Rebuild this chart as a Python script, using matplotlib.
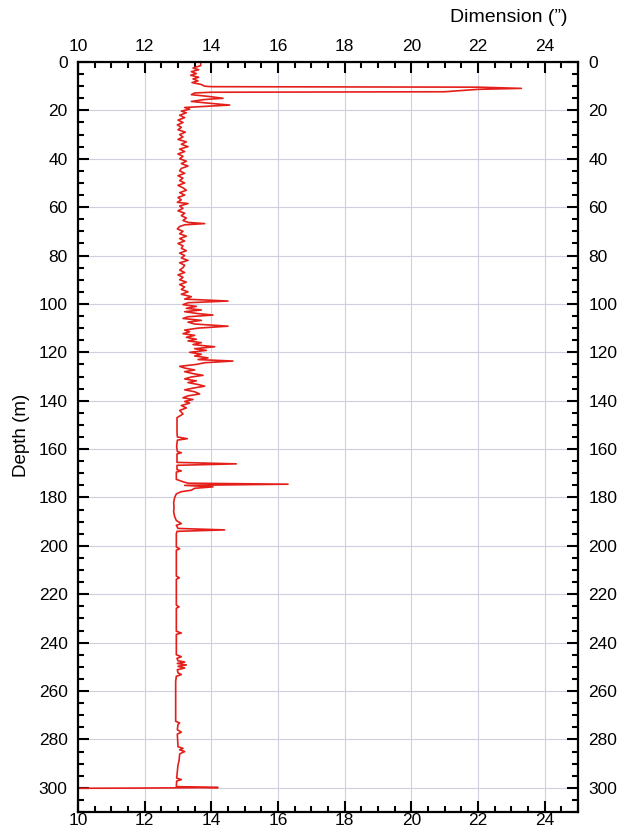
import matplotlib
matplotlib.use("Agg")
import matplotlib.pyplot as plt
from matplotlib.ticker import MultipleLocator

plt.rcParams['font.family'] = ['Liberation Sans', 'DejaVu Sans']

depth = [0, 1.5, 2.5, 3.2, 4.0, 4.8, 5.5, 6.3, 7.0, 7.8, 8.5, 9.3, 10.0, 10.2, 10.4, 10.9, 11.3, 12.3,
         12.5, 12.8, 13.5, 14.2, 15.0, 15.5, 16.3, 17.0, 17.8, 18.3, 18.8, 19.5, 20.3, 21.0, 22.0, 23.0,
         24.0, 25.0, 26.0, 27.0, 28.0, 29.0, 30.0, 31.0, 32.0, 33.0, 34.0, 35.0, 36.0, 37.0, 38.0, 39.0,
         40.0, 41.0, 42.0, 43.0, 44.0, 45.0, 46.0, 47.0, 48.0, 49.0, 50.0, 51.0, 52.0, 53.0, 54.0, 55.0,
         56.0, 57.0, 58.0, 58.5, 59.5, 60.5, 61.5, 62.5, 63.5, 64.5, 65.5, 66.3, 66.8, 67.3, 68.0, 69.0,
         70.0, 71.0, 72.0, 73.0, 74.0, 75.0, 76.0, 77.0, 78.0, 79.0, 80.0, 81.0, 82.0, 83.0, 84.0, 85.0,
         86.0, 87.0, 88.0, 89.0, 90.0, 91.0, 92.0, 93.0, 94.0, 95.0, 96.0, 97.0, 98.0, 98.8, 99.5, 100.3,
         101.0, 101.8, 102.5, 103.2, 104.0, 104.6, 105.3, 106.0, 106.8, 107.5, 108.3, 109.2, 110.0, 110.8,
         111.5, 112.3, 113.0, 113.8, 114.6, 115.3, 116.0, 116.8, 117.7, 118.5, 119.2, 120.0, 120.8, 121.5,
         122.3, 123.0, 123.6, 124.3, 125.0, 125.8, 126.5, 127.3, 128.0, 128.8, 129.5, 130.2, 131.0, 131.8,
         132.5, 133.3, 134.0, 134.8, 135.5, 136.3, 137.2, 138.0, 138.8, 139.5, 140.3, 141.0, 142.0, 143.0,
         144.0, 145.5, 147.0, 150.0, 153.0, 155.0, 155.7, 156.3, 159.0, 161.0, 161.5, 162.0, 165.5, 166.1,
         166.7, 168.5, 169.0, 169.5, 172.5, 173.5, 174.1, 174.5, 175.0, 175.6, 176.2, 177.0, 177.6, 178.5,
         180.0, 182.0, 184.0, 186.0, 188.0, 189.5, 190.8, 191.5, 192.8, 193.4, 194.0, 195.0, 200.5, 201.2,
         201.8, 212.5, 213.2, 213.8, 224.5, 225.2, 225.8, 235.3, 236.0, 236.6, 245.0, 245.8, 246.5, 247.5,
         248.0, 248.6, 249.2, 249.8, 250.5, 251.2, 252.5, 253.2, 253.9, 256.0, 263.0, 272.5, 273.2, 273.8,
         276.0, 277.0, 277.8, 283.0, 283.7, 284.3, 285.0, 286.0, 289.0, 290.5, 296.0, 296.6, 297.2, 299.5,
         299.9, 300.1, 300.2]

dimension = [13.68, 13.68, 13.45, 13.62, 13.40, 13.55, 13.38, 13.62, 13.45, 13.60, 13.42, 13.70, 13.80,
             14.0, 22.0, 23.3, 22.0, 21.0, 14.0, 13.5, 13.4, 13.9, 14.35, 13.8, 13.4, 13.9, 14.55, 13.9,
             13.2, 13.35, 13.1, 13.25, 13.05, 13.2, 13.0, 13.15, 12.98, 13.1, 13.0, 13.22, 13.05, 13.15,
             13.0, 13.25, 13.1, 13.3, 13.05, 13.2, 13.0, 13.15, 13.05, 13.25, 13.1, 13.3, 13.1, 13.05, 13.2,
             13.0, 13.15, 13.05, 13.2, 13.0, 13.15, 13.25, 13.05, 13.2, 13.0, 13.1, 12.98, 13.3, 13.05,
             13.15, 13.0, 13.2, 13.1, 13.25, 13.15, 13.3, 13.8, 13.2, 13.05, 12.98, 13.15, 13.05, 13.25,
             13.05, 13.2, 13.0, 13.15, 13.1, 13.25, 13.05, 13.2, 13.1, 13.3, 13.05, 13.2, 13.15, 13.05,
             13.2, 13.0, 13.15, 13.05, 13.25, 13.05, 13.2, 13.1, 13.3, 13.1, 13.4, 13.2, 14.5, 13.3, 13.15,
             13.55, 13.25, 13.7, 13.2, 13.6, 14.05, 13.3, 13.15, 13.7, 13.3, 13.5, 14.5, 13.6, 13.2, 13.35,
             13.15, 13.5, 13.25, 13.55, 13.3, 13.7, 13.45, 14.1, 13.5, 13.85, 13.35, 13.7, 13.5, 13.9, 13.6,
             14.65, 13.8, 13.55, 13.05, 13.2, 13.5, 13.2, 13.45, 13.75, 13.4, 13.2, 13.55, 13.3, 13.6, 13.8,
             13.45, 13.2, 13.5, 13.65, 13.3, 13.15, 13.45, 13.2, 13.35, 13.1, 13.25, 13.05, 13.15, 12.97,
             12.97, 12.97, 12.98, 13.28, 12.98, 12.96, 12.98, 13.1, 12.97, 12.97, 14.75, 12.97, 12.97, 13.1,
             12.95, 12.95, 13.15, 13.3, 16.3, 13.2, 14.05, 13.5, 13.4, 13.1, 12.95, 12.9, 12.87, 12.88,
             12.87, 12.9, 12.95, 13.1, 12.95, 13.0, 14.4, 12.97, 12.95, 12.95, 13.05, 12.95, 12.95, 13.04,
             12.95, 12.95, 13.03, 12.95, 12.95, 13.1, 12.95, 12.95, 13.1, 12.97, 13.0, 13.2, 12.98, 13.25,
             13.0, 13.2, 12.98, 13.0, 13.1, 12.95, 12.93, 12.93, 12.93, 13.05, 13.0, 12.98, 13.1, 12.98,
             13.0, 13.15, 13.05, 13.2, 13.05, 13.03, 13.0, 12.96, 13.1, 12.96, 12.95, 14.2, 12.0, 10.0]

x_ticks = [10, 12, 14, 16, 18, 20, 22, 24]
y_ticks = list(range(0, 301, 20))

fig = plt.figure(figsize=(6.32, 8.31), dpi=100)
ax = fig.add_axes([78 / 632, 1 - 812 / 831, 500 / 632, 750 / 831])

ax.plot(dimension, depth, color='#e41f1a', linewidth=1.2)

ax.set_xlim(10, 25)
ax.set_ylim(310, 0)
ax.set_xticks(x_ticks)
ax.set_yticks(y_ticks)
ax.xaxis.set_minor_locator(MultipleLocator(0.5))
ax.yaxis.set_minor_locator(MultipleLocator(5))

ax.grid(True, which='major', color='#cfcfe2', linewidth=0.8)
ax.set_axisbelow(True)

ax.tick_params(which='both', direction='in', top=True, right=True,
               labeltop=False, labelright=True, width=1.5, colors='black',
               labelsize=12.5)
ax.tick_params(which='major', length=8)
ax.tick_params(which='minor', length=4.5)
ax.tick_params(axis='y', which='major', pad=7.5)
ax.tick_params(axis='x', which='major', pad=0.8)
for s in ax.spines.values():
    s.set_linewidth(1.6)

sec = ax.secondary_xaxis('top')
sec.set_xticks(x_ticks)
sec.tick_params(length=0, pad=6, labelsize=12.5, colors='black')
sec.spines['top'].set_visible(False)

fig.text(568 / 632, 1 - 18 / 831, 'Dimension (\u201d)', ha='right', va='center', fontsize=14)
fig.text(22 / 632, 1 - 435 / 831, 'Depth (m)', ha='center', va='center', rotation=90, fontsize=13.5)

fig.savefig('out.png', dpi=100, facecolor='white')
